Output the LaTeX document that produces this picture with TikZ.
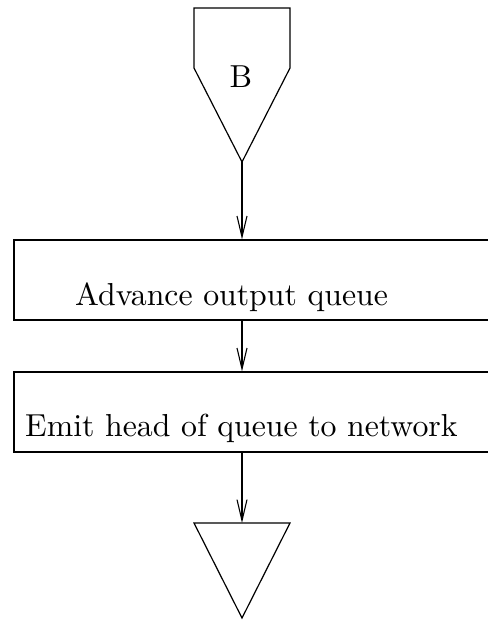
\documentclass[tikz,border=0pt]{standalone}
\usepackage{fontspec}
\usetikzlibrary{arrows.meta}
\newfontfamily\labelfont{lmroman10-regular}[Extension=.otf]
\begin{document}
\begin{tikzpicture}[x=1pt,y=-1pt,
  outline/.style={line width=1.2pt,black},
  flowbox/.style={outline,draw,rectangle,minimum width=480pt,minimum height=80pt,inner sep=0pt},
  flow/.style={outline,-{Straight Barb[length=21pt,width=10pt,line width=1.1pt]}},
  label/.style={inner sep=0pt,font=\labelfont\fontsize{31.8}{38}\selectfont}]
\useasboundingbox (0,0) rectangle (487,620);
% entry connector (pentagon)
\draw[outline] (194,8) -- (290,8) -- (290,68) -- (242,162) -- (194,68) -- cycle;
\coordinate (entry) at (242,162);
\node[label,anchor=base] (b) at (241,88) {B};
% process boxes
\node[flowbox] (adv) at (254,280) {};
\node[label,anchor=base west] (advtxt) at (75,305) {Advance output queue};
\node[flowbox] (emit) at (254,412) {};
\node[label,anchor=base west] (emittxt) at (25,436) {Emit head of queue to network};
% exit connector (triangle)
\draw[outline] (194,523) -- (290,523) -- (242,618) -- cycle;
\coordinate (exit) at (242,523);
% flow arrows
\draw[flow] (entry) -- (entry |- adv.north);
\draw[flow] (adv.south -| entry) -- (emit.north -| entry);
\draw[flow] (emit.south -| entry) -- (exit);
\end{tikzpicture}
\end{document}
